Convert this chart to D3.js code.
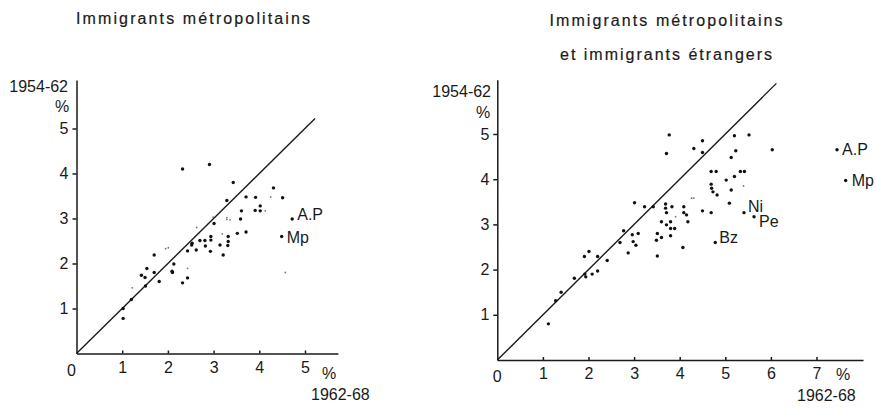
<!DOCTYPE html>
<html lang="fr">
<head>
<meta charset="UTF-8">
<title>Immigrants métropolitains</title>
<script src="https://cdnjs.cloudflare.com/ajax/libs/d3/7.8.5/d3.min.js"></script>
<style>
  body { margin: 0; background: #fff; }
  svg { display: block; font-family: "Liberation Sans", Arial, sans-serif; }
  .tick text { font-size: 16px; fill: #1a1a1a; }
  .tick line, .domain { stroke: #1a1a1a; stroke-width: 1.5; }
  .lbl { font-size: 16px; fill: #1a1a1a; }
  .title { font-size: 16px; fill: #1a1a1a; stroke: #1a1a1a; stroke-width: 0.2; }
</style>
</head>
<body>
<div id="chart"></div>
<script>
// ---- data (x = 1962-68 %, y = 1954-62 %) ----
const leftTitle = ["Immigrants métropolitains"];
const leftPoints = [
  [2.32,4.10],[2.91,4.20],[3.43,3.80],[4.31,3.68],[4.51,3.46],[3.92,3.47],[3.71,3.48],
  [3.29,3.40],[3.61,3.17],[3.91,3.18],[4.02,3.28],[4.02,3.17],[3.59,2.99],[3.01,2.89],
  [3.71,2.70],[3.52,2.67],[3.32,2.60],[3.32,2.49],[3.31,2.40],[3.14,2.41],[3.21,2.19],
  [2.94,2.60],[2.94,2.52],[2.81,2.51],[2.82,2.39],[2.70,2.51],[2.93,2.27],[2.62,2.30],
  [2.52,2.41],[2.53,2.45],[2.43,2.28],[2.13,1.99],[2.09,1.83],[2.10,1.80],[2.43,1.68],
  [2.32,1.57],[1.70,2.19],[1.54,1.89],[1.42,1.74],[1.50,1.69],[1.70,1.80],[1.81,1.60],
  [1.51,1.50],[1.20,1.20],[1.02,1.00],[1.02,0.78]
];
const leftFaint = [
  [2.43,1.89],[1.22,1.46],[2.01,2.35],[1.95,2.33],[2.63,2.80],[2.99,3.03],[3.19,2.66],
  [3.29,2.98],[3.36,2.97],[4.25,3.48],[4.13,3.17],[4.57,1.80],[3.29,3.02]
];
const leftNamed = [
  {name: "A.P", x: 4.72, y: 2.99},
  {name: "Mp", x: 4.49, y: 2.60}
];

const rightTitle = ["Immigrants métropolitains", "et immigrants étrangers"];
const rightPoints = [
  [1.12,0.80],[1.28,1.31],[1.40,1.50],[1.69,1.81],[1.91,2.29],[2.01,2.40],[1.92,1.90],
  [1.94,1.84],[2.08,1.90],[2.20,2.29],[2.20,1.97],[2.41,2.20],[2.69,2.60],[2.77,2.86],
  [2.87,2.37],[2.96,2.77],[3.01,3.48],[2.98,2.62],[3.04,2.54],[3.09,2.80],[3.23,3.39],
  [3.42,3.39],[3.49,2.65],[3.51,2.80],[3.51,2.30],[3.60,3.06],[3.60,2.71],[3.69,3.45],
  [3.69,3.36],[3.71,3.26],[3.71,2.99],[3.77,4.98],[3.71,4.57],[3.80,3.06],[3.80,2.75],
  [3.80,2.91],[3.83,3.39],[3.89,2.91],[4.07,2.49],[4.09,3.39],[4.09,3.26],[4.15,3.21],
  [4.18,3.06],[4.31,4.68],[4.50,4.85],[4.50,4.59],[4.50,3.30],[4.69,4.17],[4.80,4.17],
  [4.69,3.89],[4.70,3.80],[4.73,3.72],[4.82,3.65],[4.69,3.26],[5.02,3.98],[5.09,3.47],
  [5.13,4.48],[5.13,3.76],[5.20,4.06],[5.20,4.96],[5.23,4.63],[5.33,4.17],[5.42,4.17],
  [5.52,4.98],[6.03,4.65]
];
const rightFaint = [[3.91,3.17],[4.26,3.58],[4.31,3.58],[5.40,3.85]];
const rightNamed = [
  {name: "A.P", x: 7.45, y: 4.65},
  {name: "Mp", x: 7.64, y: 3.97},
  {name: "Ni", x: 5.41, y: 3.26},
  {name: "Pe", x: 5.63, y: 3.17},
  {name: "Bz", x: 4.78, y: 2.60}
];

const yLabel = "1954-62";
const xLabel = "1962-68";

// ---- drawing ----
const W = 876, H = 409;
const svg = d3.select("#chart").append("svg")
  .attr("width", W).attr("height", H)
  .attr("viewBox", [0, 0, W, H]);

function panel(o) {
  const x = d3.scaleLinear().domain([0, o.xMax]).range([o.x0, o.x0 + o.xMax * o.ux]);
  const y = d3.scaleLinear().domain([0, o.yMax]).range([o.y0, o.y0 - o.yMax * o.uy]);
  const g = svg.append("g");

  // titles
  o.title.forEach((t, i) => {
    g.append("text").attr("class", "title")
      .attr("x", o.titleX).attr("y", o.titleY + i * 34)
      .attr("text-anchor", "middle")
      .attr("textLength", o.titleW[i]).attr("lengthAdjust", "spacing")
      .text(t);
  });

  const fmt = d3.format("d");
  g.append("g").attr("transform", `translate(0,${o.y0})`)
    .call(d3.axisBottom(x).tickValues(d3.range(1, o.xTicks + 1)).tickFormat(fmt)
      .tickSizeInner(-3).tickSizeOuter(0).tickPadding(8));

  g.append("g").attr("transform", `translate(${o.x0},0)`)
    .call(d3.axisLeft(y).tickValues(d3.range(1, o.yTicks + 1)).tickFormat(fmt)
      .tickSizeInner(4).tickSizeOuter(0).tickPadding(4));

  g.append("text").attr("class", "lbl").attr("x", o.x0 + o.zeroDx).attr("y", o.y0 + 22)
    .attr("text-anchor", "middle").text("0");

  // axis titles
  g.append("text").attr("class", "lbl")
    .attr("x", o.yLab[0]).attr("y", o.yLab[1]).attr("text-anchor", "end").text(yLabel);
  g.append("text").attr("class", "lbl")
    .attr("x", o.yPct[0]).attr("y", o.yPct[1]).attr("text-anchor", "middle").text("%");
  g.append("text").attr("class", "lbl")
    .attr("x", o.xPct[0]).attr("y", o.xPct[1]).attr("text-anchor", "middle").text("%");
  g.append("text").attr("class", "lbl")
    .attr("x", o.xLab[0]).attr("y", o.xLab[1]).text(xLabel);

  // diagonal y = x
  g.append("line")
    .attr("x1", x(0)).attr("y1", y(0))
    .attr("x2", x(o.diag)).attr("y2", y(o.diag))
    .attr("stroke", "#1a1a1a").attr("stroke-width", 1.4);

  g.selectAll(".faint").data(o.faint).join("circle")
    .attr("cx", d => x(d[0])).attr("cy", d => y(d[1]))
    .attr("r", 0.9).attr("fill", "#777");

  g.selectAll(".pt").data(o.points.concat(o.named.map(d => [d.x, d.y]))).join("circle")
    .attr("cx", d => x(d[0])).attr("cy", d => y(d[1]))
    .attr("r", 1.7).attr("fill", "#111");

  g.selectAll(".name").data(o.named).join("text")
    .attr("class", "lbl").attr("font-size", 15)
    .attr("x", d => x(d.x) + o.nameOff[d.name][0])
    .attr("y", d => y(d.y) + o.nameOff[d.name][1])
    .text(d => d.name);
}

panel({
  x0: 76.5, y0: 353.5, ux: 45.7, uy: 45, xMax: 5.72, yMax: 6.08, xTicks: 5, yTicks: 5,
  diag: 5.22, zeroDx: -5,
  title: leftTitle, titleX: 193, titleY: 24, titleW: [234],
  points: leftPoints, faint: leftFaint, named: leftNamed,
  nameOff: {"A.P": [5, 1], "Mp": [5, 6]},
  yLab: [68, 92], yPct: [62, 112], xPct: [329, 379], xLab: [311, 400]
});

panel({
  x0: 497.3, y0: 360, ux: 45.6, uy: 45.2, xMax: 8.02, yMax: 6.2, xTicks: 7, yTicks: 5,
  diag: 6.12, zeroDx: 0,
  title: rightTitle, titleX: 666, titleY: 26, titleW: [233, 212],
  points: rightPoints, faint: rightFaint, named: rightNamed,
  nameOff: {"A.P": [5, 5], "Mp": [6, 5], "Ni": [4, -1], "Pe": [5, 10], "Bz": [4, 1]},
  yLab: [491, 97], yPct: [483, 118], xPct: [843, 380], xLab: [797, 401]
});
</script>
</body>
</html>
